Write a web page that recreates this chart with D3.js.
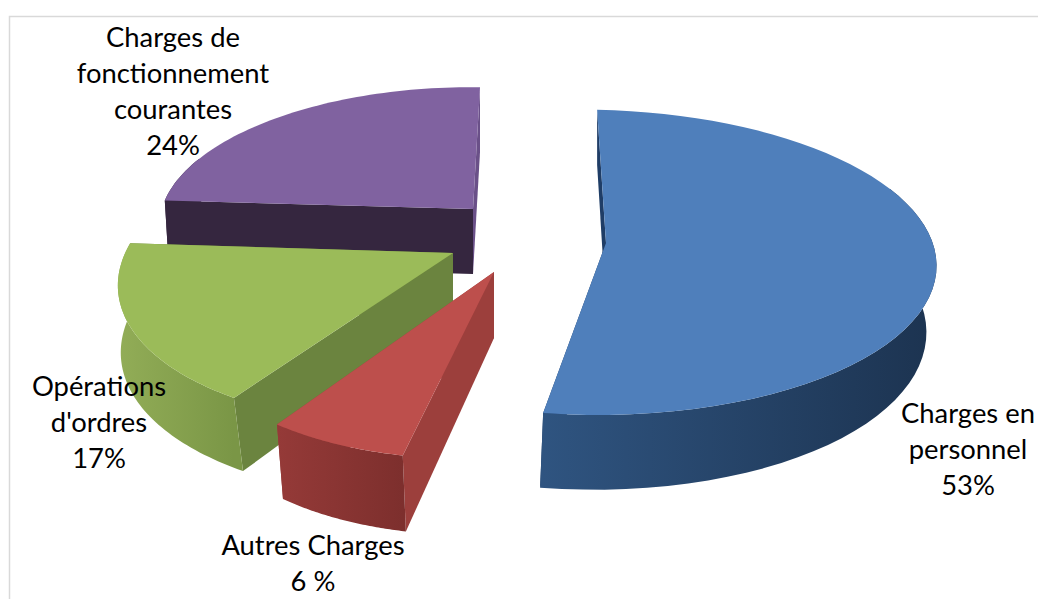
<!DOCTYPE html>
<html>
<head>
<meta charset="utf-8">
<style>
  body { margin: 0; background: #fff; }
  svg { display: block; }
  svg text { font: 27.4px Lato, Carlito, sans-serif; fill: #000; text-anchor: middle; }
</style>
</head>
<body>
<script src="https://d3js.org/d3.v7.min.js"></script>
<script>
// chart values
var categories = ["Charges en personnel", "Autres Charges", "Opérations d'ordres", "Charges de fonctionnement courantes"];
var shares = [53, 6, 17, 24];
var shareLabels = ["53%", "6 %", "17%", "24%"];
var nameLines = [["Charges en", "personnel"], ["Autres Charges"], ["Opérations", "d'ordres"], ["Charges de", "fonctionnement", "courantes"]];

var width = 1038, height = 599;

// every wedge is exploded by hand and has its own perspective, like the 3d pie in the picture
var wedges = [
  { ax: 606, ay: 243, rx: 343, ry: 150, ky: 0.1265, kx: 0.05, shear: -10, h: 65, hk: 0.15, c: 0.018, vx: 374 },
  { ax: 494, ay: 272, rx: 288, ry: 138, ky: 0.26, kx: 0.03, shear: 13.7, h: 66, hk: 0.154, c: 0.023, vx: 538 },
  { ax: 453, ay: 253, rx: 318, ry: 150, ky: 0.13, kx: 0.03, shear: 25, h: 65, hk: 0.15, c: -0.053, vx: 63 },
  { ax: 473, ay: 209, rx: 302, ry: 134, ky: 0.1, kx: 0.03, shear: 7.7, h: 65, hk: 0, c: 0.032, vx: 289 }
];
var colors = [
  { top: "#4f7fbb", cut: "#1f3d66", wall: ["#2f5480", "#1c3350"] },
  { top: "#bd4f4c", cut: "#9c3f3c", wall: ["#953a38", "#7d2f2d"] },
  { top: "#9bbb59", cut: "#6b843f", wall: ["#92ad57", "#7a9646"] },
  { top: "#8062a0", cut: "#35263f", wall: ["#35263f", "#35263f"], side: "#6a5088" }
];
var labelPos = [
  { x: 968, y: 423 }, { x: 313, y: 555 }, { x: 99, y: 396 }, { x: 173, y: 47 }
];
var lineGap = 36;

var svg = d3.select("body").append("svg")
    .attr("width", width)
    .attr("height", height);

var defs = svg.append("defs");

// chart frame
svg.append("path")
    .attr("d", "M9.5," + height + "V16.5H" + width)
    .attr("fill", "none")
    .attr("stroke", "#d9d9d9")
    .attr("stroke-width", 1.5);

var arcs = d3.pie().sort(null).startAngle(0).endAngle(2 * Math.PI)(shares);
var line = d3.line();

// top rim point for angle a (clockwise from the back of the pie)
function rim(w, a) {
  var X = Math.sin(a), Y = Math.cos(a);
  var d = 1 + w.ky * Y + w.kx * X;
  return [w.ax + (w.rx * X + w.shear * Y) / d, w.ay - w.ry * Y / d];
}

// the same point pushed down to the bottom of the wall
function lower(w, p, Y) {
  return [p[0] + w.c * (w.vx - p[0]), p[1] + w.h * (1 - w.hk * Y)];
}

function sweep(d) {
  return d3.range(0, 61).map(function(i) {
    return d.startAngle + (d.endAngle - d.startAngle) * i / 60;
  });
}

function cutFace(w, a) {
  var apex = [w.ax, w.ay], edge = rim(w, a), Y = Math.cos(a);
  var low = lower(w, edge, Y);
  // the edge running to the back of the pie drops straight down
  if (Y > 0.99) low[0] = edge[0];
  return [apex, edge, low, [w.ax, w.ay + w.h]];
}

// back to front
[3, 0, 2, 1].forEach(function(i) {
  var w = wedges[i], d = arcs[i], col = colors[i];
  var g = svg.append("g").attr("class", "wedge").datum(d);
  var angles = sweep(d);
  var rimPts = angles.map(function(a) { return rim(w, a); });

  var gradId = "wall" + i;
  var grad = defs.append("linearGradient")
      .attr("id", gradId)
      .attr("gradientUnits", "userSpaceOnUse")
      .attr("x1", d3.min(rimPts, function(p) { return p[0]; }))
      .attr("x2", d3.max(rimPts, function(p) { return p[0]; }))
      .attr("y1", 0)
      .attr("y2", 0);
  grad.append("stop").attr("offset", 0).attr("stop-color", col.wall[0]);
  grad.append("stop").attr("offset", 1).attr("stop-color", col.wall[1]);

  // the two cut faces
  g.append("path")
      .attr("d", line(cutFace(w, d.endAngle)) + "Z")
      .attr("fill", col.side || col.cut);
  g.append("path")
      .attr("d", line(cutFace(w, d.startAngle)) + "Z")
      .attr("fill", col.cut);

  // outer wall, only the part of the rim that faces the viewer
  var front = angles.filter(function(a) { return Math.cos(a) < 0.4; });
  if (front.length) {
    var upper = front.map(function(a) { return rim(w, a); });
    var bottom = front.map(function(a) { return lower(w, rim(w, a), Math.cos(a)); });
    g.append("path")
        .attr("d", line(upper.concat(bottom.reverse())) + "Z")
        .attr("fill", "url(#" + gradId + ")");
  }

  // top face
  g.append("path")
      .attr("d", line([[w.ax, w.ay]].concat(rimPts)) + "Z")
      .attr("fill", col.top);
});

// data labels
categories.forEach(function(name, i) {
  var lines = nameLines[i].concat(shareLabels[i]);
  svg.append("text")
      .attr("class", "label")
      .selectAll("tspan")
      .data(lines)
      .join("tspan")
      .attr("x", labelPos[i].x)
      .attr("y", function(t, j) { return labelPos[i].y + j * lineGap; })
      .text(function(t) { return t; });
});
</script>
</body>
</html>
